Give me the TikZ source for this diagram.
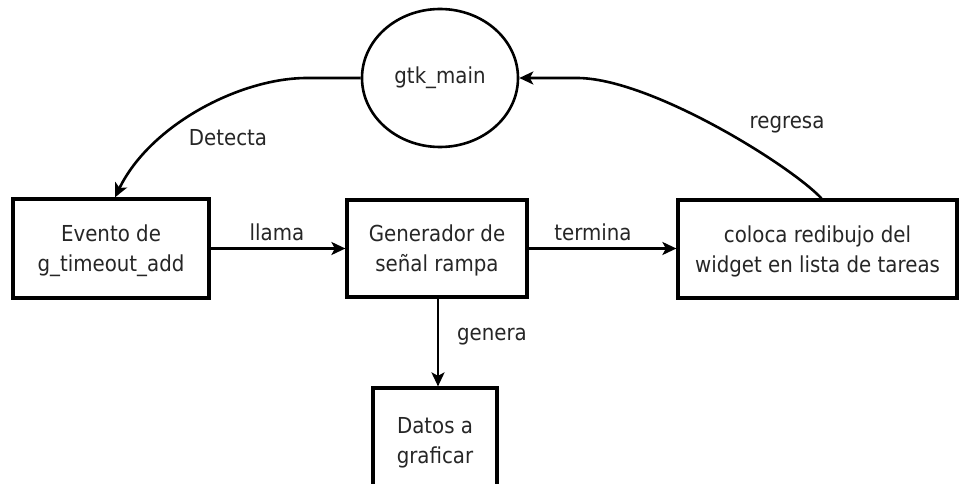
\documentclass[tikz,border=0pt]{standalone}
\usepackage{fontspec}
\setmainfont{DejaVu Sans}[FakeStretch=0.9]
\usetikzlibrary{shapes.geometric,arrows.meta}
\begin{document}
\begin{tikzpicture}[x=1pt,y=-1pt,
  every node/.style={font=\fontsize{22}{30}\selectfont, text=black!85},
  procbox/.style={draw=black, line width=3.2pt, rectangle, align=center, inner sep=0pt},
  oval/.style={draw=black, line width=2.6pt, ellipse, inner sep=0pt, minimum width=156pt, minimum height=138pt},
  arr/.style={draw=black, line width=2.6pt, -{Stealth[length=14pt,width=13pt,inset=3.5pt]}},
  lbl/.style={inner sep=0pt}
]
\useasboundingbox (0,0) rectangle (961,484);
\fill[white] (0,0) rectangle (961,484);

\node[oval] (gtk) at (440,78) {gtk\_main};
\node[procbox, minimum width=196pt, minimum height=99pt, text depth=-3pt] (ev) at (111,248.5) {Evento de\\g\_timeout\_add};
\node[procbox, minimum width=180pt, minimum height=97pt, text depth=-3pt] (gen) at (437,248.5) {Generador de\\señal rampa};
\node[procbox, minimum width=279pt, minimum height=98pt, text depth=-3pt] (col) at (817.5,249) {coloca redibujo del\\widget en lista de tareas};
\node[procbox, minimum width=124pt, minimum height=104pt, text depth=-8pt] (dat) at (435,440) {Datos a\\graficar};

\coordinate (dL) at (307,78);
\coordinate (rR) at (577,78);

\draw[arr] (gtk.west) -- (dL) .. controls (240,78) and (150,125) .. ([xshift=4pt]ev.north);
\draw[arr] ([xshift=4pt]col.north) .. controls (790,165) and (650,78) .. (rR) -- (gtk.east);
\draw[arr] (ev.east) -- (ev.east -| gen.west);
\draw[arr] (gen.east) -- (gen.east -| col.west);
\draw[arr] ([xshift=1pt]gen.south) -- ([xshift=1pt]gen.south |- dat.north);

\node[lbl] (lDet) at (228,138) {Detecta};
\node[lbl] (lReg) at (787,125) {regresa};
\node[lbl] (lLla) at (277,232) {llama};
\node[lbl] (lTer) at (593,232) {termina};
\node[lbl] (lGen) at (492,337) {genera};
\end{tikzpicture}
\end{document}
